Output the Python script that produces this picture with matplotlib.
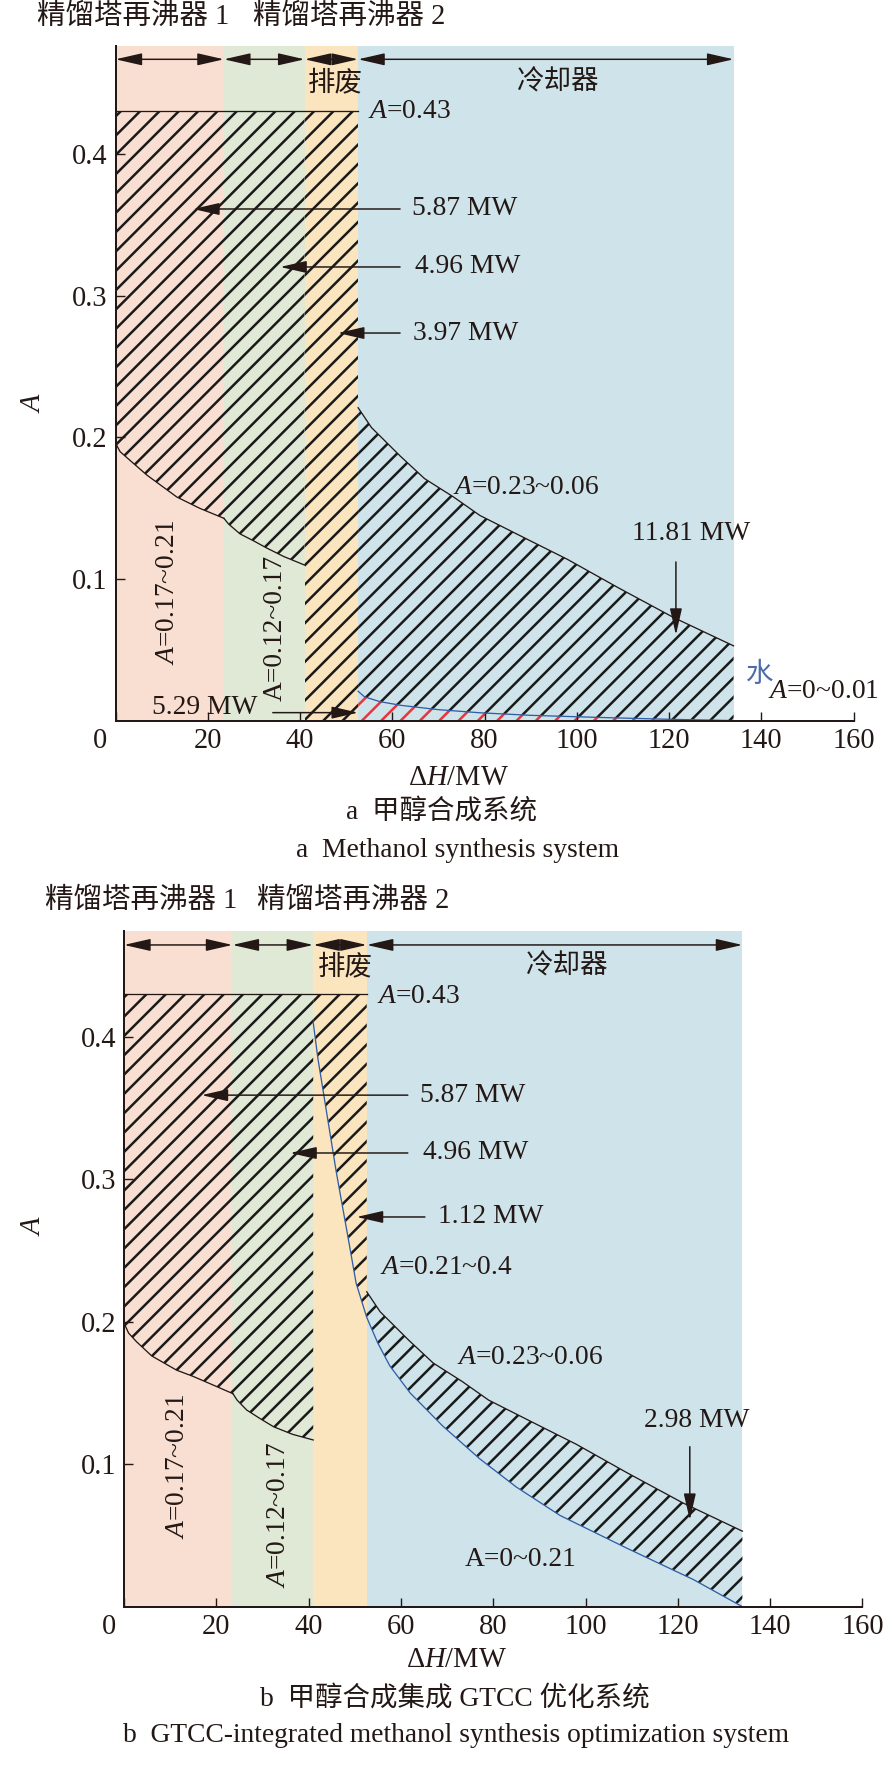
import numpy as np
import matplotlib
matplotlib.use('Agg')
import matplotlib.pyplot as plt

# ---------------- data ----------------
x_ticks = [0, 20, 40, 60, 80, 100, 120, 140, 160]
y_ticks = [0.1, 0.2, 0.3, 0.4]
zone_edges = [0, 23.5, 41, 52.6, 134]
zone_colors = ['#f9dfd2', '#e0e8d6', '#fae5bf', '#cfe4ea']
A_top = 0.43

# panel a: methanol synthesis system
a_reb1_x = [0, 1, 3.1, 6.8, 13.3, 18.3, 23.5]
a_reb1_A = [0.196, 0.190, 0.184, 0.1735, 0.158, 0.150, 0.143]
a_reb2_x = [23.5, 24.5, 27, 30, 32.8, 36.5, 41]
a_reb2_A = [0.143, 0.139, 0.132, 0.127, 0.122, 0.116, 0.110]
cool_x = [52.6, 55.5, 61.7, 67, 73.3, 79, 90, 98, 109, 121, 134]
cool_A = [0.221, 0.207, 0.187, 0.171, 0.158, 0.145, 0.127, 0.114, 0.094, 0.073, 0.053]
water_x = [52.6, 54, 57.4, 62, 70, 79, 90, 105, 120, 134]
water_A = [0.021, 0.017, 0.0136, 0.011, 0.008, 0.0058, 0.004, 0.0025, 0.0012, 0.0003]

# panel b: GTCC-integrated system
b_reb1_x = [0, 1, 2.7, 6, 11.4, 15, 19, 23.6]
b_reb1_A = [0.199, 0.192, 0.186, 0.176, 0.166, 0.1616, 0.156, 0.1495]
b_reb2_x = [23.6, 24.5, 26.6, 29.5, 32.4, 36.5, 41]
b_reb2_A = [0.1495, 0.145, 0.138, 0.132, 0.1263, 0.121, 0.117]
gt_x = [41, 42, 43.5, 46, 48.5, 50.3, 52.6, 55, 57.6, 62, 69, 77, 85, 94.5, 109, 123.4, 134]
gt_A = [0.41, 0.385, 0.355, 0.305, 0.26, 0.227, 0.203, 0.185, 0.169, 0.150, 0.127, 0.104,
        0.084, 0.064, 0.041, 0.019, 0.0]

a_mw_labels = ['5.87 MW', '4.96 MW', '3.97 MW', '11.81 MW', '5.29 MW']
b_mw_labels = ['5.87 MW', '4.96 MW', '1.12 MW', '2.98 MW']

# ---------------- style ----------------
DPI = 116
W, H = 886, 1776
PT = 72 / DPI   # points per pixel

plt.rcParams.update({
    'font.family': ['Liberation Serif', 'Noto Sans CJK SC'],
    'mathtext.fontset': 'custom',
    'mathtext.rm': 'Liberation Serif',
    'mathtext.it': 'Liberation Serif:italic',
    'hatch.linewidth': 1.55,
})

FS_TICK = 28.5 * PT
FS_ANN = 27.5 * PT
FS_TOP = 28.5 * PT
FS_CAP = 27.5 * PT
LW_CURVE = 1.3 * PT
BLUE = '#2f5ea8'
INK = '#231815'
XPAD = 7

fig = plt.figure(figsize=(W / DPI, H / DPI), dpi=DPI)


def fx(px):
    return px / W


def fy(py):
    return 1 - py / H


def make_ax(l, r, t, b, ytop):
    ax = fig.add_axes([l / W, 1 - b / H, (r - l) / W, (b - t) / H])
    ax.set_xlim(0, 160)
    ax.set_ylim(0, ytop)
    ax.set_facecolor('white')
    for s in ['top', 'right']:
        ax.spines[s].set_visible(False)
    for s in ['left', 'bottom']:
        ax.spines[s].set_linewidth(2.0 * PT)
        ax.spines[s].set_color(INK)
        ax.spines[s].set_zorder(6)
    ax.set_xticks(x_ticks)
    ax.set_xticklabels([''] + [str(v) for v in x_ticks[1:]])
    ax.set_yticks(y_ticks)
    ax.set_yticklabels([f'{v:.1f}' for v in y_ticks])
    ax.tick_params(direction='in', length=9 * PT, width=1.4 * PT, labelsize=FS_TICK, colors=INK)
    ax.tick_params(axis='x', pad=XPAD * PT)
    ax.tick_params(axis='y', pad=8 * PT)
    ax.annotate('0', xy=(0, 0), xycoords='data', xytext=(-15 * PT, -XPAD * PT),
                textcoords='offset points', ha='center', va='top', fontsize=FS_TICK, color=INK)
    for i in range(len(zone_colors)):
        ax.axvspan(zone_edges[i], zone_edges[i + 1], color=zone_colors[i], lw=0, zorder=0)
    return ax


ARROW_KW = dict(color=INK, lw=1.5 * PT, shrinkA=0, shrinkB=0, mutation_scale=20)


def darrow(ax, x0, x1, y):
    ax.annotate('', xy=(x1, y), xytext=(x0, y),
                arrowprops=dict(arrowstyle='<|-|>,head_length=0.7,head_width=0.16', **ARROW_KW), zorder=5)


def sarrow(ax, tail, head):
    ax.annotate('', xy=head, xytext=tail,
                arrowprops=dict(arrowstyle='-|>,head_length=0.7,head_width=0.16', **ARROW_KW), zorder=5)


def hatch_poly(ax, xs, ys, color='#1a1a1a'):
    ax.fill(xs, ys, facecolor='none', edgecolor=color, hatch='//', lw=0, zorder=1)


def txt(ax, x, y, s, ha='left', va='center', **kw):
    ax.text(x, y, s, ha=ha, va=va, fontsize=kw.pop('fontsize', FS_ANN), color=kw.pop('color', INK),
            zorder=5, **kw)


# ================= panel a =================
axa = make_ax(115.5, 853.5, 45.7, 721, 0.4764)

xa = np.concatenate([a_reb1_x, a_reb2_x[1:]])
ya = np.concatenate([a_reb1_A, a_reb2_A[1:]])
hatch_poly(axa, np.concatenate([xa, [zone_edges[2], zone_edges[0]]]),
           np.concatenate([ya, [A_top, A_top]]))
hatch_poly(axa, [zone_edges[2], zone_edges[3], zone_edges[3], zone_edges[2]],
           [0, 0, A_top, A_top])
hatch_poly(axa, np.concatenate([water_x, np.array(cool_x)[::-1]]),
           np.concatenate([water_A, np.array(cool_A)[::-1]]))
hatch_poly(axa, np.concatenate([water_x, [water_x[-1], water_x[0]]]),
           np.concatenate([water_A, [0, 0]]), color='#e8343c')

axa.plot([zone_edges[0], zone_edges[3]], [A_top, A_top], color=INK, lw=LW_CURVE, zorder=3)
axa.plot(a_reb1_x, a_reb1_A, color=INK, lw=LW_CURVE, zorder=3)
axa.plot(a_reb2_x, a_reb2_A, color=INK, lw=LW_CURVE, zorder=3)
axa.plot(cool_x, cool_A, color=INK, lw=LW_CURVE, zorder=3)
axa.plot(water_x, water_A, color=BLUE, lw=LW_CURVE, zorder=3)

ya_arrow = 0.4668
for i in range(4):
    darrow(axa, zone_edges[i], zone_edges[i + 1], ya_arrow)

txt(axa, 47.6, 0.450, '排废', ha='center')
txt(axa, 96, 0.450, '冷却器', ha='center')
txt(axa, 54.7, 0.430, r'$A$=0.43')

txt(axa, 64.3, 0.3612, a_mw_labels[0]); sarrow(axa, (61.7, 0.3612), (16.8, 0.3612))
txt(axa, 64.9, 0.3203, a_mw_labels[1]); sarrow(axa, (61.7, 0.3203), (35.7, 0.3203))
txt(axa, 64.5, 0.2737, a_mw_labels[2]); sarrow(axa, (61.7, 0.2737), (48.2, 0.2737))
txt(axa, 124.8, 0.1326, a_mw_labels[3], ha='center'); sarrow(axa, (121.5, 0.1122), (121.5, 0.0607))
txt(axa, 7.9, 0.0092, a_mw_labels[4]); sarrow(axa, (34.1, 0.0059), (52.6, 0.0059))

txt(axa, 73.2, 0.1644, r'$A$=0.23~0.06')
txt(axa, 139.6, 0.0325, '水', ha='center', color='#4a6ca8')
txt(axa, 141.5, 0.0205, r'$A$=0~0.01')
txt(axa, 11.2, 0.091, r'$A$=0.17~0.21', ha='center', rotation=90)
txt(axa, 34.6, 0.0656, 'A=0.12~0.17', ha='center', rotation=90)

# ================= panel b =================
axb = make_ax(124, 862.4, 930.7, 1606.7, 0.4744)

xb = np.concatenate([b_reb1_x, b_reb2_x[1:]])
yb = np.concatenate([b_reb1_A, b_reb2_A[1:]])
hatch_poly(axb, np.concatenate([xb, [zone_edges[2], zone_edges[0]]]),
           np.concatenate([yb, [A_top, A_top]]))
gx = np.array(gt_x)
gA = np.array(gt_A)
steep = gx <= zone_edges[3]
low = gx >= zone_edges[3]
hatch_poly(axb, np.concatenate([gx[steep], [zone_edges[3], zone_edges[2]]]),
           np.concatenate([gA[steep], [A_top, A_top]]))
hatch_poly(axb, np.concatenate([gx[low], np.array(cool_x)[::-1]]),
           np.concatenate([gA[low], np.array(cool_A)[::-1]]))

axb.plot([zone_edges[0], zone_edges[3]], [A_top, A_top], color=INK, lw=LW_CURVE, zorder=3)
axb.plot(b_reb1_x, b_reb1_A, color=INK, lw=LW_CURVE, zorder=3)
axb.plot(b_reb2_x, b_reb2_A, color=INK, lw=LW_CURVE, zorder=3)
axb.plot(cool_x, cool_A, color=INK, lw=LW_CURVE, zorder=3)
axb.plot(gt_x, gt_A, color=BLUE, lw=LW_CURVE, zorder=3)

yb_arrow = 0.4644
for i in range(4):
    darrow(axb, zone_edges[i], zone_edges[i + 1], yb_arrow)

txt(axb, 47.9, 0.449, '排废', ha='center')
txt(axb, 96, 0.449, '冷却器', ha='center')
txt(axb, 54.8, 0.4279, r'$A$=0.43')

txt(axb, 64.1, 0.359, b_mw_labels[0]); sarrow(axb, (61.5, 0.359), (16.8, 0.359))
txt(axb, 64.8, 0.3184, b_mw_labels[1]); sarrow(axb, (61.5, 0.3184), (36.0, 0.3184))
txt(axb, 68.0, 0.2735, b_mw_labels[2]); sarrow(axb, (65.2, 0.2735), (50.4, 0.2735))
txt(axb, 124.2, 0.131, b_mw_labels[3], ha='center'); sarrow(axb, (122.6, 0.1123), (122.6, 0.0608))

txt(axb, 55.5, 0.2377, r'$A$=0.21~0.4')
txt(axb, 72.2, 0.1752, r'$A$=0.23~0.06')
txt(axb, 73.9, 0.0328, 'A=0~0.21')
txt(axb, 11.7, 0.0987, r'$A$=0.17~0.21', ha='center', rotation=90)
txt(axb, 33.4, 0.0644, r'$A$=0.12~0.17', ha='center', rotation=90)

# ================= figure texts =================
fig.text(fx(37), fy(17), '精馏塔再沸器 1', ha='left', va='center', fontsize=FS_TOP, color=INK)
fig.text(fx(253), fy(17), '精馏塔再沸器 2', ha='left', va='center', fontsize=FS_TOP, color=INK)
fig.text(fx(45), fy(901), '精馏塔再沸器 1', ha='left', va='center', fontsize=FS_TOP, color=INK)
fig.text(fx(257), fy(901), '精馏塔再沸器 2', ha='left', va='center', fontsize=FS_TOP, color=INK)

fig.text(fx(33), fy(402), r'$A$', ha='center', va='center', fontsize=FS_TICK, rotation=90, color=INK)
fig.text(fx(33), fy(1225), r'$A$', ha='center', va='center', fontsize=FS_TICK, rotation=90, color=INK)

fig.text(fx(459), fy(778), r'Δ$H$/MW', ha='center', va='center', fontsize=FS_TICK, color=INK)
fig.text(fx(457), fy(1660), r'Δ$H$/MW', ha='center', va='center', fontsize=FS_TICK, color=INK)

fig.text(fx(442), fy(813), 'a  甲醇合成系统', ha='center', va='center', fontsize=FS_CAP, color=INK)
fig.text(fx(457), fy(850), 'a  Methanol synthesis system', ha='center', va='center', fontsize=FS_CAP, color=INK)
fig.text(fx(455), fy(1700), 'b  甲醇合成集成 GTCC 优化系统', ha='center', va='center', fontsize=FS_CAP, color=INK)
fig.text(fx(456), fy(1736), 'b  GTCC-integrated methanol synthesis optimization system', ha='center',
         va='center', fontsize=FS_CAP, color=INK)

fig.savefig('out.png', dpi=DPI)
